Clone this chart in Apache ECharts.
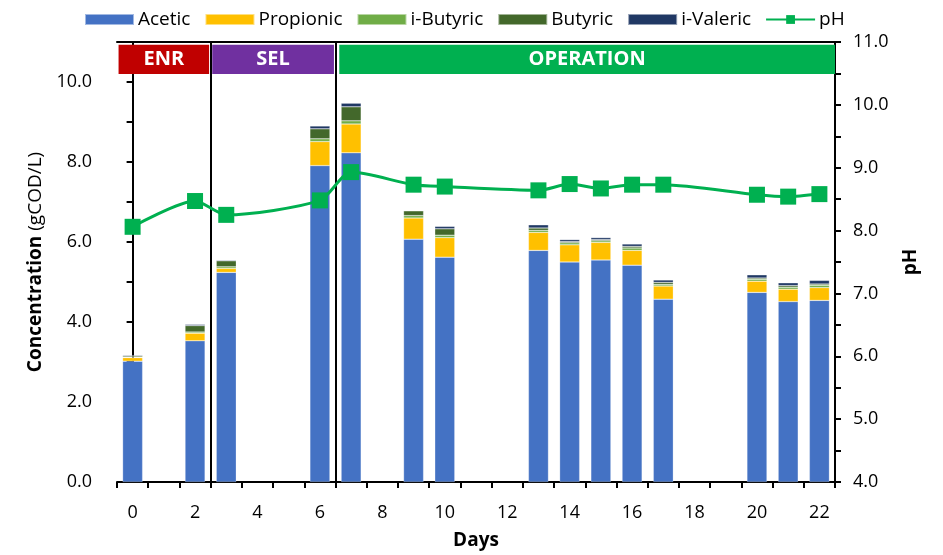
<!DOCTYPE html>
<html>
<head>
<meta charset="utf-8">
<script src="https://cdn.jsdelivr.net/npm/echarts@6/dist/echarts.min.js"></script>
<style>html,body{margin:0;padding:0;background:#fff}#c{width:943px;height:555px}</style>
</head>
<body>
<div id="c"></div>
<script>
// ---- data ----
const categories = ['0','1','2','3','4','5','6','7','8','9','10','11','12','13','14','15','16','17','18','19','20','21','22'];
const sampleDays = [0, 2, 3, 6, 7, 9, 10, 13, 14, 15, 16, 17, 20, 21, 22];
const acetic    = [3.02, 3.53, 5.24, 7.91, 8.23, 6.07, 5.62, 5.79, 5.50, 5.55, 5.42, 4.57, 4.74, 4.51, 4.54];
const propionic = [0.09, 0.19, 0.10, 0.60, 0.72, 0.53, 0.49, 0.45, 0.43, 0.44, 0.37, 0.33, 0.28, 0.31, 0.32];
const iButyric  = [0.01, 0.03, 0.04, 0.07, 0.08, 0.06, 0.06, 0.05, 0.05, 0.04, 0.06, 0.04, 0.05, 0.05, 0.06];
const butyric   = [0.03, 0.16, 0.15, 0.25, 0.35, 0.12, 0.16, 0.06, 0.03, 0.03, 0.04, 0.05, 0.03, 0.04, 0.03];
const iValeric  = [0.02, 0.03, 0.02, 0.07, 0.09, 0.01, 0.06, 0.08, 0.05, 0.05, 0.06, 0.06, 0.08, 0.07, 0.09];
const pH        = [8.06, 8.47, 8.25, 8.48, 8.93, 8.73, 8.70, 8.64, 8.74, 8.67, 8.73, 8.73, 8.57, 8.54, 8.58];
const phases = [
  {name: 'ENR', from: -0.45, to: 2.45, color: '#C00000'},
  {name: 'SEL', from: 2.55, to: 6.45, color: '#7030A0'},
  {name: 'OPERATION', from: 6.62, to: 22.5, color: '#00B050'}
];
const phaseBounds = [2.5, 6.5];
const seriesNames = ['Acetic', 'Propionic', 'i-Butyric', 'Butyric', 'i-Valeric'];
const seriesColors = ['#4472C4', '#FFC000', '#70AD47', '#43682B', '#203864'];

// ---- build ----
function toCat(arr) {
  const out = categories.map(() => null);
  sampleDays.forEach((d, i) => { out[categories.indexOf(String(d))] = arr[i]; });
  return out;
}
const FONT = 'Open Sans';
const barSeries = [acetic, propionic, iButyric, butyric, iValeric].map((arr, i) => ({
  name: seriesNames[i],
  type: 'bar',
  stack: 'vfa',
  xAxisIndex: 0, yAxisIndex: 0,
  barWidth: 20,
  itemStyle: {color: seriesColors[i], borderColor: 'rgba(255,255,255,0.5)', borderWidth: 0.5},
  data: toCat(arr)
}));

const chart = echarts.init(document.getElementById('c'), null, {renderer: 'canvas'});
chart.setOption({
  animation: false,
  textStyle: {fontFamily: FONT, color: '#000'},
  legend: {
    top: 5, left: 79,
    itemWidth: 49, itemHeight: 11, itemGap: 14,
    textStyle: {fontSize: 19, fontFamily: FONT, color: '#000', padding: [0, 0, 0, -1]},
    data: [...seriesNames.map(n => ({name: n, icon: 'rect'})), {name: 'pH'}]
  },
  grid: {left: 117, right: 108, top: 42, bottom: 71, containLabel: false},
  xAxis: [
    {
      type: 'category', data: categories, boundaryGap: true,
      name: 'Days', nameLocation: 'middle', nameGap: 49,
      nameTextStyle: {fontSize: 19, fontWeight: 'bold', fontFamily: FONT, color: '#000'},
      axisLine: {lineStyle: {color: '#000', width: 2}},
      axisTick: {show: true, interval: 0, length: 6, inside: false, lineStyle: {color: '#000', width: 2}},
      axisLabel: {interval: 1, fontSize: 18, margin: 22, color: '#000', fontFamily: FONT},
      splitLine: {show: false}
    },
    {
      type: 'value', min: -0.5, max: 22.5, position: 'top',
      axisLine: {show: true, onZero: false, lineStyle: {color: '#000', width: 2}},
      axisTick: {show: false}, axisLabel: {show: false}, splitLine: {show: false}
    }
  ],
  yAxis: [
    {
      type: 'value', min: 0, max: 11, interval: 1,
      name: '{b|Concentration} {n|(gCOD/L)}', nameLocation: 'middle', nameGap: 66,
      nameTextStyle: {
        fontSize: 19, color: '#000', fontFamily: FONT,
        rich: {b: {fontSize: 19, fontWeight: 'bold', fontFamily: FONT, color: '#000'},
               n: {fontSize: 19, fontFamily: FONT, color: '#000'}}
      },
      axisLine: {show: true, lineStyle: {color: '#000', width: 2}},
      axisTick: {show: true, length: 6, lineStyle: {color: '#000', width: 2}},
      axisLabel: {fontSize: 18, margin: 25, color: '#000', fontFamily: FONT,
        formatter: v => (Math.round(v) % 2 === 0 ? v.toFixed(1) : '')},
      splitLine: {show: false}
    },
    {
      type: 'value', min: 4, max: 11, interval: 0.5, position: 'right',
      name: 'pH', nameLocation: 'middle', nameGap: 66,
      nameTextStyle: {fontSize: 19, fontWeight: 'bold', fontFamily: FONT, color: '#000'},
      axisLine: {show: true, lineStyle: {color: '#000', width: 2}},
      axisTick: {show: true, length: 6, lineStyle: {color: '#000', width: 2}},
      axisLabel: {fontSize: 18, margin: 18, color: '#000', fontFamily: FONT,
        formatter: v => (Math.abs(v - Math.round(v)) < 1e-6 ? v.toFixed(1) : '')},
      splitLine: {show: false}
    }
  ],
  series: [
    ...barSeries,
    {
      name: 'pH', type: 'line', xAxisIndex: 0, yAxisIndex: 1,
      data: toCat(pH), connectNulls: true, smooth: 0.25,
      symbol: 'rect', symbolSize: 16,
      lineStyle: {color: '#00B050', width: 3},
      itemStyle: {color: '#00B050'},
      z: 5
    },
    {
      name: 'phases', type: 'line', xAxisIndex: 1, yAxisIndex: 0, data: [],
      silent: true,
      markArea: {
        silent: true,
        data: phases.map(p => [
          {xAxis: p.from, yAxis: 10.2, name: p.name,
           itemStyle: {color: p.color, opacity: 1},
           label: {show: true, position: 'inside', color: '#fff', fontSize: 20, fontWeight: 'bold', fontFamily: FONT}},
          {xAxis: p.to, yAxis: 10.93}
        ])
      },
      markLine: {
        silent: true, symbol: 'none', label: {show: false},
        lineStyle: {color: '#000', width: 2, type: 'solid'},
        data: phaseBounds.map(b => ({xAxis: b}))
      },
      z: 6
    }
  ]
});
</script>
</body>
</html>
